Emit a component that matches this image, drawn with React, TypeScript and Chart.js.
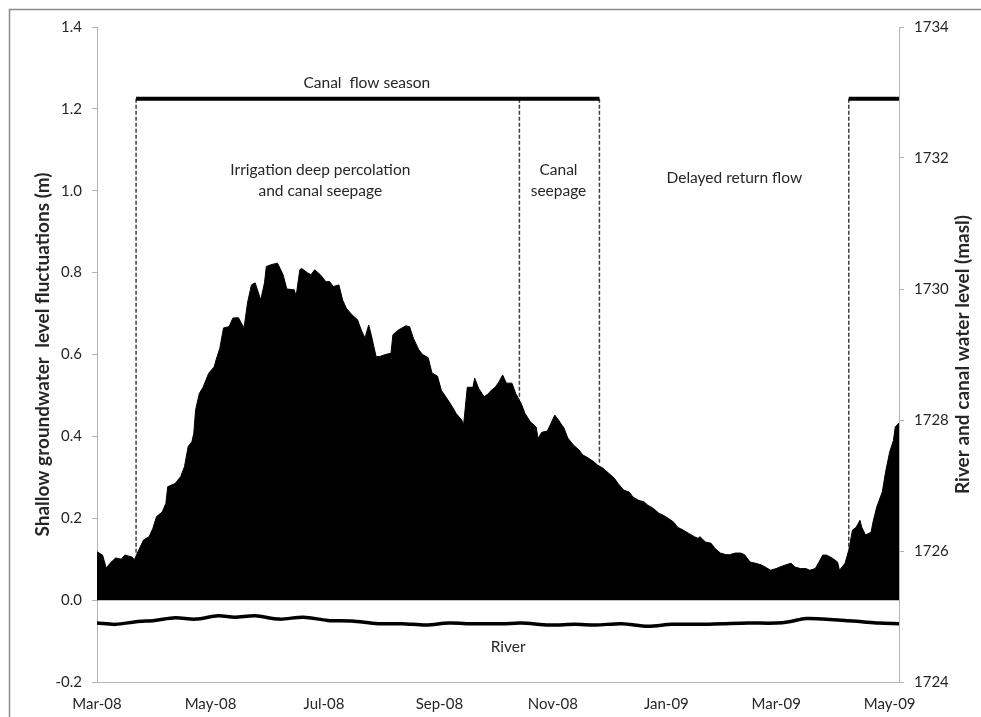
import React, { useEffect, useRef } from "react";
import { Chart, registerables } from "chart.js";

Chart.register(...registerables);

// Days since 1 Mar 2008 for the x axis
const xTickDays = [0, 61, 122, 184, 245, 306, 365, 426];
const xTickLabels = ["Mar-08", "May-08", "Jul-08", "Sep-08", "Nov-08", "Jan-09", "Mar-09", "May-09"];

// Shallow groundwater level fluctuations (m)
const gwDays = [
  0, 3, 5, 7, 10, 13, 15, 19, 20, 22, 25, 28, 30, 32, 35, 37, 38, 42, 45, 47, 49, 51, 52, 53, 55, 57, 60, 63, 64, 66,
  68, 71, 73, 76, 79, 81, 83, 85, 88, 90, 91, 94, 97, 100, 102, 106, 107, 109, 110, 113, 115, 117, 120, 123, 125, 127,
  130, 132, 134, 137, 140, 142, 144, 146, 147, 150, 152, 155, 158, 159, 162, 166, 168, 170, 173, 175, 178, 180, 183,
  185, 188, 191, 193, 196, 197, 199, 202, 203, 205, 208, 210, 212, 214, 216, 218, 220, 223, 225, 228, 230, 233, 236,
  237, 239, 242, 244, 246, 248, 251, 253, 256, 259, 261, 264, 267, 269, 272, 275, 278, 280, 283, 286, 288, 291, 294,
  296, 299, 302, 304, 307, 310, 312, 315, 318, 321, 323, 324, 327, 330, 332, 335, 338, 340, 343, 346, 348, 351, 354,
  357, 359, 362, 365, 367, 370, 373, 375, 378, 381, 383, 386, 388, 390, 392, 395, 398, 399, 402, 404, 406, 408, 410,
  411, 413, 416, 417, 419, 422, 424, 426, 428, 429, 431,
];
const gwLevels = [
  0.118, 0.11, 0.078, 0.09, 0.103, 0.1, 0.11, 0.105, 0.098, 0.118, 0.147, 0.155, 0.175, 0.204, 0.215, 0.236, 0.277,
  0.285, 0.302, 0.326, 0.375, 0.387, 0.407, 0.465, 0.505, 0.52, 0.554, 0.57, 0.587, 0.615, 0.665, 0.668, 0.689, 0.69,
  0.665, 0.729, 0.77, 0.775, 0.733, 0.775, 0.815, 0.82, 0.823, 0.795, 0.76, 0.758, 0.742, 0.807, 0.81, 0.8, 0.795,
  0.807, 0.795, 0.778, 0.778, 0.766, 0.77, 0.733, 0.713, 0.697, 0.685, 0.66, 0.64, 0.672, 0.655, 0.595, 0.595, 0.6,
  0.603, 0.648, 0.66, 0.67, 0.668, 0.64, 0.611, 0.6, 0.592, 0.555, 0.547, 0.513, 0.493, 0.472, 0.456, 0.44, 0.428,
  0.52, 0.52, 0.542, 0.518, 0.497, 0.503, 0.513, 0.52, 0.533, 0.55, 0.53, 0.53, 0.505, 0.48, 0.456, 0.435, 0.423,
  0.395, 0.41, 0.413, 0.432, 0.452, 0.44, 0.42, 0.396, 0.379, 0.367, 0.355, 0.347, 0.338, 0.33, 0.322, 0.31, 0.298,
  0.285, 0.269, 0.264, 0.252, 0.244, 0.24, 0.232, 0.224, 0.212, 0.208, 0.2, 0.19, 0.178, 0.171, 0.163, 0.155, 0.151,
  0.155, 0.142, 0.139, 0.127, 0.115, 0.111, 0.111, 0.115, 0.115, 0.111, 0.093, 0.09, 0.086, 0.081, 0.073, 0.077,
  0.081, 0.086, 0.09, 0.081, 0.077, 0.077, 0.073, 0.077, 0.093, 0.11, 0.11, 0.103, 0.093, 0.073, 0.09, 0.122, 0.171,
  0.178, 0.195, 0.178, 0.159, 0.166, 0.19, 0.227, 0.264, 0.318, 0.362, 0.39, 0.423, 0.433,
];

// River water level (masl), right axis
const riverDays = [
  0, 10, 21, 31, 42, 53, 65, 74, 85, 98, 111, 124, 137, 151, 164, 177, 189, 202, 218, 228, 243, 257, 268, 282, 296,
  309, 322, 336, 350, 365, 372, 381, 390, 402, 411, 420, 431,
];
const riverLevels = [
  1724.9, 1724.88, 1724.92, 1724.94, 1724.98, 1724.96, 1725.01, 1724.99, 1725.01, 1724.96, 1724.99, 1724.94, 1724.93,
  1724.89, 1724.89, 1724.87, 1724.9, 1724.89, 1724.89, 1724.9, 1724.87, 1724.88, 1724.87, 1724.89, 1724.85, 1724.88,
  1724.88, 1724.89, 1724.9, 1724.9, 1724.92, 1724.97, 1724.96, 1724.94, 1724.92, 1724.9, 1724.89,
];

// Canal flow season periods [start day, end day] and marker level (m)
const canalSeasons = [
  [21, 270],
  [404, 431],
];
const canalSeasonLevel = 1.225;

// Dashed period boundaries: day and level where they meet the groundwater curve
const boundaryDays = [21, 227, 270, 404];
const boundaryBottoms = [0.11, 0.49, 0.335, 0.13];

// Text annotations
const annotationTexts = [
  "Canal  flow season",
  "Irrigation deep percolation",
  "and canal seepage",
  "Canal",
  "seepage",
  "Delayed return flow",
  "River",
];
const annotationDays = [145, 120, 120, 248, 248, 342.5, 221];
const annotationLevels = [1.263, 1.05, 0.999, 1.05, 0.999, 1.031, -0.115];

const leftTitle = "Shallow groundwater  level fluctuations (m)";
const rightTitle = "River and canal water level (masl)";

const FONT = "Lato, 'Open Sans', sans-serif";
const TEXT = "#262626";
const AXIS = "#b3b3b3";

const overlayPlugin = {
  id: "overlay",
  afterDraw(chart: any) {
    const ctx = chart.ctx as CanvasRenderingContext2D;
    const xs = chart.scales.x;
    const ys = chart.scales.y;
    const area = chart.chartArea;
    ctx.save();
    ctx.fillStyle = TEXT;
    ctx.textAlign = "center";
    ctx.textBaseline = "middle";
    ctx.font = `15.5px ${FONT}`;
    annotationTexts.forEach((t, i) => {
      ctx.fillText(t, xs.getPixelForValue(annotationDays[i]), ys.getPixelForValue(annotationLevels[i]));
    });
    const cy = (area.top + area.bottom) / 2;
    ctx.font = `bold 19px ${FONT}`;
    ctx.save();
    ctx.translate(area.left - 54, cy);
    ctx.rotate(-Math.PI / 2);
    ctx.fillText(leftTitle, 0, 0);
    ctx.restore();
    ctx.save();
    ctx.translate(area.right + 64, cy);
    ctx.rotate(-Math.PI / 2);
    ctx.fillText(rightTitle, 0, 0);
    ctx.restore();
    ctx.strokeStyle = "#8c8c8c";
    ctx.lineWidth = 1.5;
    ctx.strokeRect(9.5, 9.5, 1000, 1000);
    ctx.restore();
  },
};

export default function App() {
  const ref = useRef<HTMLCanvasElement>(null);
  useEffect(() => {
    if (!ref.current) return;
    const gwData = gwDays.map((d, i) => ({ x: d, y: gwLevels[i] }));
    const riverData = riverDays.map((d, i) => ({ x: d, y: riverLevels[i] }));
    const seasonSets = canalSeasons.map((s) => ({
      type: "line" as const,
      data: [
        { x: s[0], y: canalSeasonLevel },
        { x: s[1], y: canalSeasonLevel },
      ],
      yAxisID: "y",
      borderColor: "#000",
      borderWidth: 4,
      pointRadius: 0,
      fill: false,
      order: 1,
    }));
    const boundarySets = boundaryDays.map((d, i) => ({
      type: "line" as const,
      data: [
        { x: d, y: canalSeasonLevel },
        { x: d, y: boundaryBottoms[i] },
      ],
      yAxisID: "y",
      borderColor: "#404040",
      borderWidth: 1.5,
      borderDash: [4, 2],
      pointRadius: 0,
      fill: false,
      order: 2,
    }));
    const chart = new Chart(ref.current, {
      type: "line",
      data: {
        datasets: [
          {
            data: gwData,
            yAxisID: "y",
            borderColor: "#000",
            backgroundColor: "#000",
            borderWidth: 1,
            pointRadius: 0,
            tension: 0,
            fill: "origin",
            order: 10,
          },
          {
            data: riverData,
            yAxisID: "y1",
            borderColor: "#000",
            borderWidth: 3.5,
            pointRadius: 0,
            tension: 0.3,
            fill: false,
            order: 3,
          },
          ...seasonSets,
          ...boundarySets,
        ] as any,
      },
      plugins: [overlayPlugin],
      options: {
        animation: false,
        responsive: false,
        maintainAspectRatio: false,
        events: [],
        layout: { padding: { left: 0, right: 0, top: 27, bottom: 0 } },
        plugins: { legend: { display: false }, tooltip: { enabled: false } },
        scales: {
          x: {
            type: "linear",
            min: 0,
            max: 431,
            afterBuildTicks: (scale: any) => {
              scale.ticks = xTickDays.map((v) => ({ value: v }));
            },
            afterFit: (scale: any) => {
              scale.height = 35;
            },
            ticks: {
              autoSkip: false,
              maxRotation: 0,
              padding: 13,
              color: TEXT,
              font: { family: FONT, size: 15 },
              callback: (v: any) => {
                const idx = xTickDays.indexOf(Number(v));
                return idx >= 0 ? xTickLabels[idx] : "";
              },
            },
            grid: { display: false, drawTicks: false },
            border: { display: true, color: AXIS, width: 1 },
          },
          y: {
            position: "left",
            min: -0.2,
            max: 1.4,
            afterFit: (scale: any) => {
              scale.width = 97;
            },
            ticks: {
              stepSize: 0.2,
              padding: 10,
              color: TEXT,
              font: { family: FONT, size: 15 },
              callback: (v: any) => {
                const n = Number(v);
                return Math.abs(n) < 1e-9 ? "0.0" : n.toFixed(1);
              },
            },
            grid: { drawOnChartArea: false, drawTicks: true, tickLength: 5, color: AXIS },
            border: { display: true, color: AXIS, width: 1 },
          },
          y1: {
            position: "right",
            min: 1724,
            max: 1734,
            afterFit: (scale: any) => {
              scale.width = 82;
            },
            ticks: {
              stepSize: 2,
              padding: 10,
              color: TEXT,
              font: { family: FONT, size: 15 },
              callback: (v: any) => String(Math.round(Number(v))),
            },
            grid: { drawOnChartArea: false, drawTicks: true, tickLength: 5, color: AXIS },
            border: { display: true, color: AXIS, width: 1 },
          },
        },
      } as any,
    });
    return () => chart.destroy();
  }, []);
  return (
    <div style={{ position: "absolute", left: 0, top: 0, width: 981, height: 717, background: "#fff" }}>
      <canvas ref={ref} width={981} height={717} style={{ display: "block", width: 981, height: 717 }} />
    </div>
  );
}
